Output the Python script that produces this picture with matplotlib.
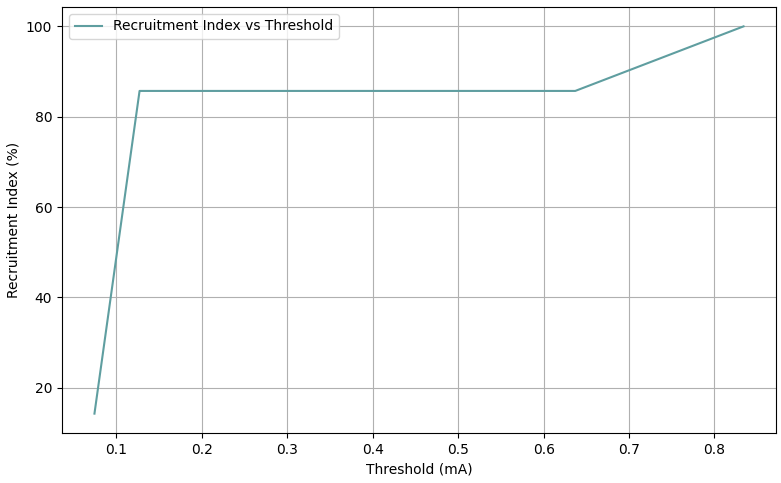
import matplotlib
matplotlib.use("Agg")
import matplotlib.pyplot as plt

# thresholds (mA) and recruitment index (%)
thresholds = [0.0742, 0.127, 0.637, 0.834]
recruitment = [14.29, 85.71, 85.71, 100.0]

fig, ax = plt.subplots(figsize=(7.81, 4.83), dpi=100)
ax.plot(thresholds, recruitment, color="cadetblue", label="Recruitment Index vs Threshold")
ax.set_xlabel("Threshold (mA)")
ax.set_ylabel("Recruitment Index (%)")
ax.grid(True)
ax.legend(loc="upper left")
fig.subplots_adjust(left=62 / 781, right=776 / 781, top=1 - 7 / 483, bottom=1 - 433 / 483)
fig.savefig("out.png")
